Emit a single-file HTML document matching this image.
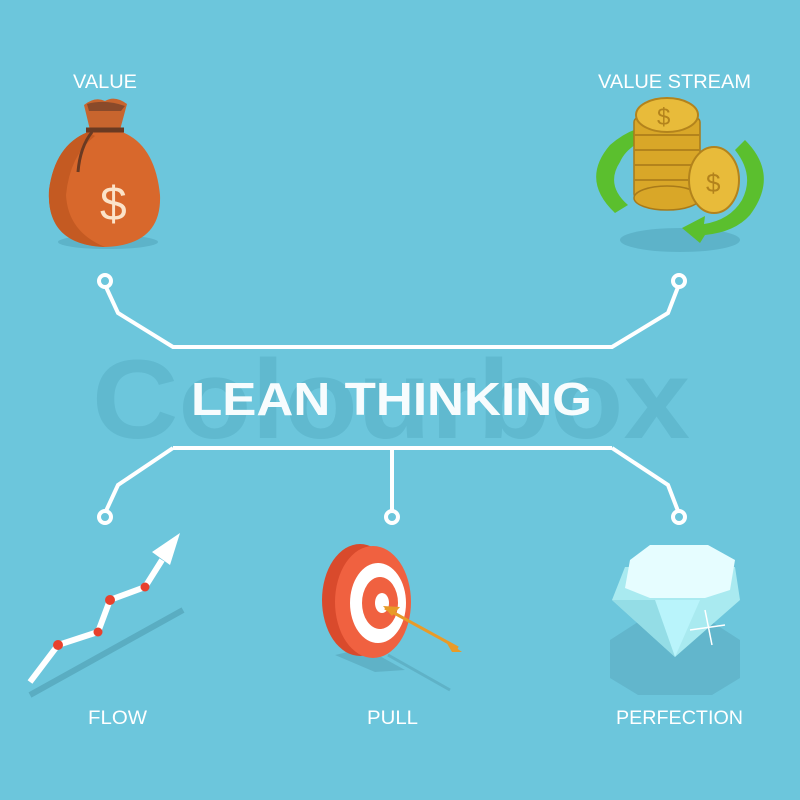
<!DOCTYPE html>
<html><head><meta charset="utf-8"><style>
html,body{margin:0;padding:0;background:#6cc6dc;}
svg{display:block}
text{font-family:"Liberation Sans",sans-serif;}
</style></head><body>
<svg width="800" height="800" viewBox="0 0 800 800" xmlns="http://www.w3.org/2000/svg">
<rect width="800" height="800" fill="#6cc6dc"/>
<text x="92" y="438" font-size="112" font-weight="bold" fill="#60b9cf" textLength="598" lengthAdjust="spacingAndGlyphs">Colourbox</text>
<g stroke="#fff" stroke-width="4" fill="none">
<polyline points="106,287 118,313 173,347 612,347 668,313 678,287"/>
<polyline points="173,448 612,448"/>
<polyline points="173,448 118,485 106,511"/>
<polyline points="612,448 668,485 678,511"/>
<line x1="392" y1="448" x2="392" y2="511"/>
<circle cx="105" cy="281" r="6" fill="#6cc6dc"/>
<circle cx="679" cy="281" r="6" fill="#6cc6dc"/>
<circle cx="105" cy="517" r="6" fill="#6cc6dc"/>
<circle cx="392" cy="517" r="6" fill="#6cc6dc"/>
<circle cx="679" cy="517" r="6" fill="#6cc6dc"/>
</g>
<text x="191" y="415" font-size="46" font-weight="bold" fill="#fff" fill-opacity="0.95" textLength="401" lengthAdjust="spacingAndGlyphs">LEAN THINKING</text>
<g fill="#fff" font-size="19">
<text x="73" y="88" textLength="64" lengthAdjust="spacingAndGlyphs">VALUE</text>
<text x="598" y="88" textLength="153" lengthAdjust="spacingAndGlyphs">VALUE STREAM</text>
<text x="88" y="724" textLength="59" lengthAdjust="spacingAndGlyphs">FLOW</text>
<text x="367" y="724" textLength="51" lengthAdjust="spacingAndGlyphs">PULL</text>
<text x="616" y="724" textLength="127" lengthAdjust="spacingAndGlyphs">PERFECTION</text>
</g>
<!-- money bag -->
<ellipse cx="108" cy="242" rx="50" ry="7" fill="#5db3c9"/>
<path d="M88,132 Q55,145 49,190 Q46,245 105,247 Q162,245 160,195 Q155,145 122,132 Z" fill="#d8682c"/>
<path d="M88,132 Q55,145 49,190 Q46,245 105,247 Q68,232 66,195 Q70,155 95,136 Z" fill="#c45a22"/>
<path d="M84,105 Q95,96 105,101 Q115,95 127,104 L120,130 L90,130 Z" fill="#c8652e"/>
<path d="M87,104 Q105,99 125,106 L121,111 L89,111 Z" fill="#8a4a2a"/>
<path d="M86,130 L124,130" stroke="#6a3a22" stroke-width="5"/>
<path d="M92,132 Q80,147 78,172" stroke="#6a3a22" stroke-width="3" fill="none"/>
<text x="100" y="220" font-size="48" fill="#fbe3c9">$</text>
<!-- value stream -->
<ellipse cx="680" cy="240" rx="60" ry="12" fill="#5db3c9"/>
<path d="M615,213 Q580,180 610,145 Q625,132 640,128 L640,142 Q625,150 620,162 Q605,185 628,205 Z" fill="#5bbf2e"/>
<path d="M745,140 Q780,175 750,215 Q735,232 705,235 L700,243 L682,228 L705,216 L704,224 Q730,220 742,200 Q755,175 735,150 Z" fill="#5bbf2e"/>
<g fill="#d9a728" stroke="#a87a1a" stroke-width="1.5">
<rect x="634" y="118" width="66" height="80" rx="4"/>
<ellipse cx="667" cy="198" rx="33" ry="12"/>
</g>
<g stroke="#b3831c" stroke-width="2">
<line x1="634" y1="135" x2="700" y2="135"/><line x1="634" y1="150" x2="700" y2="150"/><line x1="634" y1="165" x2="700" y2="165"/><line x1="634" y1="180" x2="700" y2="180"/>
</g>
<ellipse cx="667" cy="115" rx="31" ry="17" fill="#e8bb3a" stroke="#b3831c" stroke-width="2"/>
<text x="657" y="125" font-size="24" fill="#b3831c">$</text>
<ellipse cx="714" cy="180" rx="25" ry="33" fill="#e8bb3a" stroke="#b3831c" stroke-width="2"/>
<text x="706" y="192" font-size="26" fill="#b3831c">$</text>
<!-- flow -->
<line x1="30" y1="695" x2="183" y2="610" stroke="#5aadc2" stroke-width="6"/>
<polyline points="30,682 58,645 98,632 110,600 145,587 162,560" stroke="#fff" stroke-width="6" fill="none"/>
<polygon points="180,533 152,552 170,565" fill="#fff"/>
<g fill="#e8412d"><circle cx="58" cy="645" r="5"/><circle cx="98" cy="632" r="4.5"/><circle cx="110" cy="600" r="5"/><circle cx="145" cy="587" r="4.5"/></g>
<!-- target -->
<polygon points="335,655 365,648 405,670 375,672" fill="#5fb2c7"/>
<line x1="388" y1="655" x2="450" y2="690" stroke="#5fb2c7" stroke-width="3"/>
<ellipse cx="360" cy="600" rx="38" ry="56" fill="#d94a2c"/>
<ellipse cx="373" cy="602" rx="38" ry="56" fill="#f06140"/>
<ellipse cx="378" cy="603" rx="28" ry="40" fill="#fff"/>
<ellipse cx="380" cy="603" rx="18" ry="26" fill="#f06140"/>
<ellipse cx="382" cy="603" rx="7" ry="10" fill="#fff"/>
<line x1="385" y1="608" x2="458" y2="648" stroke="#e89b28" stroke-width="3"/>
<polygon points="383,606 400,607 392,616" fill="#e89b28"/>
<polygon points="445,640 462,652 452,652" fill="#e89b28"/>
<!-- diamond -->
<polygon points="610,640 638,622 712,622 740,640 740,678 712,695 638,695 610,678" fill="#62b6cc"/>
<polygon points="612,600 625,567 735,567 740,600 675,657" fill="#a9eaf0"/>
<polygon points="655,600 700,600 675,657" fill="#b9f4fb"/>
<polygon points="612,600 655,600 675,657" fill="#94dde6"/>
<polygon points="630,560 650,545 708,545 735,560 730,590 705,598 650,598 625,588" fill="#e6fdff"/>
<g stroke="#fff" stroke-width="1.5"><line x1="690" y1="630" x2="725" y2="625"/><line x1="705" y1="610" x2="712" y2="645"/></g>
</svg>
</body></html>
